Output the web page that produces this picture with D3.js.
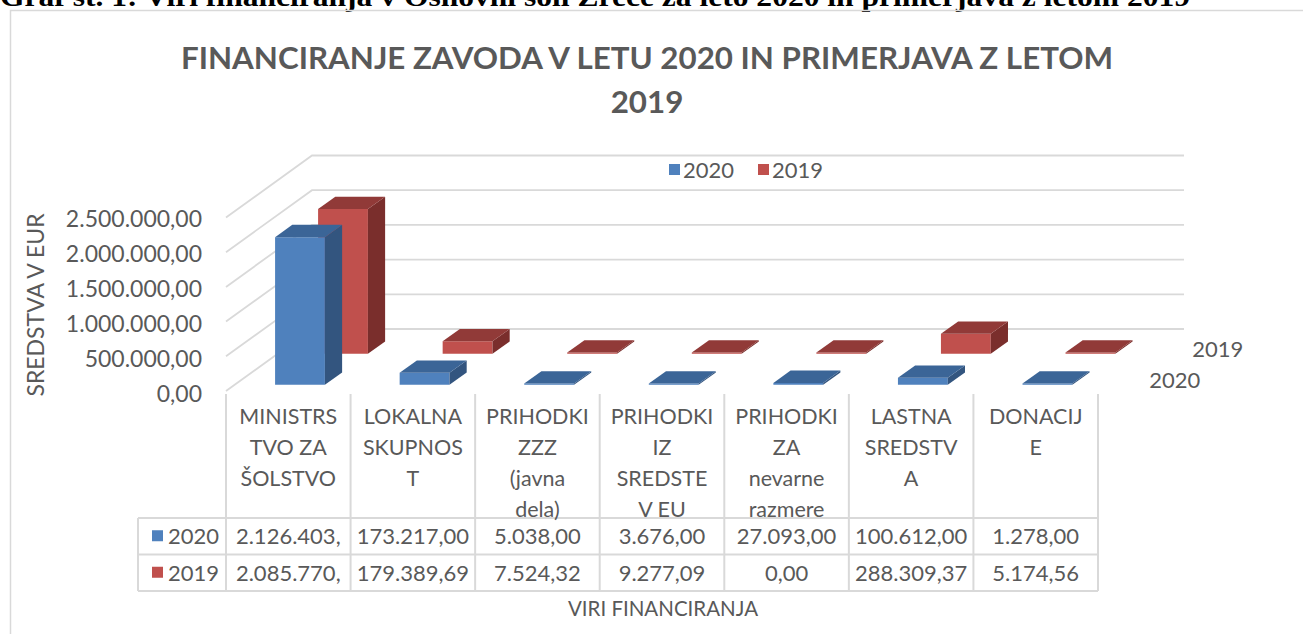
<!DOCTYPE html>
<html><head><meta charset="utf-8">
<script src="https://cdn.jsdelivr.net/npm/d3@7"></script>
<style>body{margin:0;background:#fff}svg{display:block}</style>
</head><body>
<svg id="c" width="1303" height="634"></svg>
<script>
const seriesNames = ["2020", "2019"];
const categoryLines = [
  ["MINISTRS", "TVO ZA", "ŠOLSTVO"],
  ["LOKALNA", "SKUPNOS", "T"],
  ["PRIHODKI", "ZZZ", "(javna", "dela)"],
  ["PRIHODKI", "IZ", "SREDSTE", "V EU"],
  ["PRIHODKI", "ZA", "nevarne", "razmere"],
  ["LASTNA", "SREDSTV", "A"],
  ["DONACIJ", "E"]
];
const values2020 = [2126403.00, 173217.00, 5038.00, 3676.00, 27093.00, 100612.00, 1278.00];
const values2019 = [2085770.00, 179389.69, 7524.32, 9277.09, 0.00, 288309.37, 5174.56];
const yTicks = [0, 500000, 1000000, 1500000, 2000000, 2500000];
const headerText = "Graf št. 1: Viri financiranja v Osnovni šoli Zreče za leto 2020 in primerjava z letom 2019";
const chartTitle = ["FINANCIRANJE ZAVODA V LETU 2020 IN PRIMERJAVA Z LETOM", "2019"];
const yTitle = "SREDSTVA V EUR";
const xTitle = "VIRI FINANCIRANJA";

const seriesValues = {"2020": values2020, "2019": values2019};
const colors = {
  "2020": {front: "#4F81BD", top: "#3B6597", side: "#33557F"},
  "2019": {front: "#C0504D", top: "#913A38", side: "#7A2E2C"}
};
const textCol = "#595959", gridCol = "#D9D9D9";
const font = "Lato, 'Open Sans', sans-serif";

const svg = d3.select("#c");
const fmt = v => {
  const s = v.toFixed(2).split(".");
  return s[0].replace(/\B(?=(\d{3})+(?!\d))/g, ".") + "," + s[1];
};

// header (clipped at top as in the reference)
svg.append("text").attr("x", 0).attr("y", 6).text(headerText)
  .attr("textLength", 1190).attr("lengthAdjust", "spacingAndGlyphs")
  .attr("font-family", "'Liberation Serif', 'Times New Roman', serif")
  .attr("font-weight", "bold").attr("font-size", 28).attr("fill", "#000");

// chart frame
svg.append("path").attr("d", "M10.5,634 V10.5 H1303").attr("fill", "none")
  .attr("stroke", gridCol).attr("stroke-width", 1.5);

// title
svg.selectAll("text.title").data(chartTitle).join("text").attr("class", "title")
  .attr("x", 647).attr("y", (d, i) => 69 + i * 44).attr("text-anchor", "middle")
  .attr("font-family", font).attr("font-weight", "bold").attr("font-size", 31.3)
  .attr("fill", textCol).text(d => d);

// scales
const x = d3.scaleBand().domain(d3.range(categoryLines.length)).range([226, 1098]);
const y = d3.scaleLinear().domain([0, 2500000]).range([391, 391 - 173.5]);
const z = d3.scaleBand().domain(seriesNames).range([0, 1]).paddingInner(0.6).paddingOuter(0.3).align(1/3);
const DX = 86, DY = -62;
const P = (xx, v, zz) => [xx + zz * DX, y(v) + zz * DY];
const poly = pts => "M" + pts.map(p => p.join(",")).join("L") + "Z";

const x0 = x.range()[0], x1 = x.range()[1];
// gridlines: left wall diagonal + back wall horizontal
const grid = svg.append("g").attr("fill", "none").attr("stroke", gridCol).attr("stroke-width", 1.8);
yTicks.forEach(t => {
  const a = P(x0, t, 0), b = P(x0, t, 1), c = P(x1, t, 1);
  grid.append("path").attr("d", "M" + a + "L" + b + "L" + c);
});

// y labels
svg.selectAll("text.ytick").data(yTicks).join("text").attr("class", "ytick")
  .attr("x", 202).attr("y", d => y(d) + 3 - d / 2500000 * 2).attr("dy", "0.36em").attr("text-anchor", "end")
  .attr("font-family", font).attr("font-size", 23).attr("fill", textCol).text(d => fmt(d));
svg.append("text").attr("transform", "translate(36,305) rotate(-90)").attr("text-anchor", "middle")
  .attr("dy", "0.36em").attr("font-family", font).attr("font-size", 23).attr("fill", textCol).text(yTitle);

// legend
const leg = svg.append("g").attr("font-family", font).attr("font-size", 22).attr("fill", textCol);
[["2020", 669], ["2019", 758]].forEach(([s, lx]) => {
  leg.append("rect").attr("x", lx).attr("y", 164).attr("width", 11).attr("height", 11).attr("fill", colors[s].front);
  leg.append("text").attr("x", lx + 14).attr("y", 170).attr("dy", "0.36em").text(s);
});

// bars: back row first
const bars = svg.append("g");
["2019", "2020"].forEach(s => {
  const vals = seriesValues[s];
  const za = z(s), zb = z(s) + z.bandwidth();
  vals.forEach((v, i) => {
    const bx0 = x(i) + x.bandwidth() * 0.325, bx1 = x(i) + x.bandwidth() * 0.725;
    let top = v;
    const minH = y.invert(y(0) - 1.2);
    if (y(0) - y(v) < 1.2) top = minH;
    const g = bars.append("g");
    g.append("path").attr("fill", colors[s].front)
      .attr("d", poly([P(bx0, 0, za), P(bx1, 0, za), P(bx1, top, za), P(bx0, top, za)]));
    g.append("path").attr("fill", colors[s].side)
      .attr("d", poly([P(bx1, 0, za), P(bx1, 0, zb), P(bx1, top, zb), P(bx1, top, za)]));
    g.append("path").attr("fill", colors[s].top)
      .attr("d", poly([P(bx0, top, za), P(bx1, top, za), P(bx1, top, zb), P(bx0, top, zb)]));
  });
  // series axis label
  const sp = P(x1, 0, za + z.bandwidth() / 2);
  svg.append("text").attr("x", sp[0] + 34).attr("y", sp[1] + 1).attr("dy", "0.36em")
    .attr("font-family", font).attr("font-size", 22).attr("fill", textCol).text(s);
});

// data table
const tbl = svg.append("g");
const rowTop = 518, rowH = 36.5, keyX = 138;
const tl = tbl.append("g").attr("stroke", gridCol).attr("stroke-width", 2).attr("fill", "none");
[rowTop, rowTop + rowH, rowTop + 2 * rowH].forEach(yy =>
  tl.append("line").attr("x1", keyX).attr("x2", x1).attr("y1", yy).attr("y2", yy));
tl.append("line").attr("x1", keyX).attr("x2", keyX).attr("y1", rowTop).attr("y2", rowTop + 2 * rowH);
d3.range(categoryLines.length + 1).forEach(i => {
  const xx = i < categoryLines.length ? x(i) : x1;
  tl.append("line").attr("x1", xx).attr("x2", xx).attr("y1", 394).attr("y2", rowTop + 2 * rowH);
});
// category labels
categoryLines.forEach((lines, i) => {
  tbl.append("text").attr("x", x(i) + x.bandwidth() / 2).attr("y", 416).attr("text-anchor", "middle")
    .attr("font-family", font).attr("font-size", 21.5).attr("fill", textCol)
    .selectAll("tspan").data(lines).join("tspan")
    .attr("x", x(i) + x.bandwidth() / 2).attr("y", (d, k) => 416 + k * 31).attr("dy", "0.36em").text(d => d);
});
seriesNames.forEach((s, r) => {
  const cy = rowTop + rowH * r + rowH / 2;
  tbl.append("rect").attr("x", 152).attr("y", cy - 6).attr("width", 11).attr("height", 11).attr("fill", colors[s].front);
  tbl.append("text").attr("x", 168).attr("y", cy).attr("dy", "0.36em").attr("font-family", font)
    .attr("font-size", 22).attr("fill", textCol).text(s);
  seriesValues[s].forEach((v, i) => {
    const t = tbl.append("text").attr("x", x(i) + x.bandwidth() / 2).attr("y", cy).attr("dy", "0.36em")
      .attr("text-anchor", "middle").attr("font-family", font).attr("font-size", 22).attr("fill", textCol);
    let str = fmt(v);
    t.text(str);
    if (t.node().getComputedTextLength() > x.bandwidth() - 6) {
      // cell too narrow: the decimal digits are dropped, as the reference shows
      str = str.slice(0, str.indexOf(",") + 1);
      t.text(str);
    }
  });
});
svg.append("text").attr("x", 663).attr("y", 609).attr("dy", "0.36em").attr("text-anchor", "middle")
  .attr("font-family", font).attr("font-size", 20.5).attr("fill", textCol).text(xTitle);
</script>
</body></html>
